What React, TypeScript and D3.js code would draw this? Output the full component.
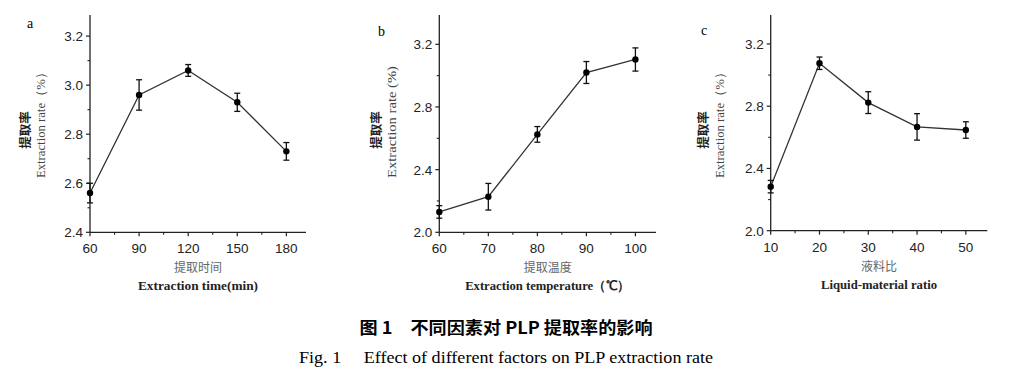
import React from "react";
import * as d3 from "d3";

// ---- data ----
const timeX = [60, 90, 120, 150, 180];
const timeY = [2.56, 2.96, 3.06, 2.93, 2.73];
const timeErr = [0.04, 0.062, 0.024, 0.037, 0.036];

const tempX = [60, 70, 80, 90, 100];
const tempY = [2.13, 2.227, 2.625, 3.02, 3.103];
const tempErr = [0.04, 0.085, 0.05, 0.07, 0.074];

const ratioX = [10, 20, 30, 40, 50];
const ratioY = [2.283, 3.076, 2.823, 2.667, 2.647];
const ratioErr = [0.04, 0.04, 0.07, 0.085, 0.053];

const timeXTicks = [60, 90, 120, 150, 180];
const timeYTicks = [2.4, 2.6, 2.8, 3.0, 3.2];
const tempXTicks = [60, 70, 80, 90, 100];
const tempYTicks = [2.0, 2.4, 2.8, 3.2];
const ratioXTicks = [10, 20, 30, 40, 50];
const ratioYTicks = [2.0, 2.4, 2.8, 3.2];

const panelLetters = ["a", "b", "c"];
const xTitlesCN = ["提取时间", "提取温度", "液料比"];
const xTitlesEN = ["Extraction time(min)", "Extraction temperature（℃）", "Liquid-material ratio"];
const yTitleCN = "提取率";
const yTitlesEN = ["Extraction rate（%）", "Extraction rate (%)", "Extraction rate（%）"];
const captionCN = "图 1　不同因素对 PLP 提取率的影响";
const captionEN = "Fig. 1　 Effect of different factors on PLP extraction rate";

const CN_FONT = "'Noto Sans CJK SC', sans-serif";
const SERIF = "'Liberation Serif', 'Times New Roman', serif";
const SANS = "'Liberation Sans', Arial, sans-serif";

type PanelCfg = {
  x: number[]; y: number[]; err: number[];
  xTicks: number[]; yTicks: number[];
  xDom: [number, number]; yDom: [number, number];
  left: number; right: number; top: number; bottom: number;
  xMinorStep: number; yMinorStep: number;
  letter: string; letterPos: [number, number];
  xCN: string; xEN: string; yEN: string;
  yLabOff: [number, number];
  xENLen: number;
};

const panels: PanelCfg[] = [
  {
    x: timeX, y: timeY, err: timeErr, xTicks: timeXTicks, yTicks: timeYTicks,
    xDom: [60, 192], yDom: [2.4, 3.286],
    left: 90, right: 306, top: 15, bottom: 232.3,
    xMinorStep: 15, yMinorStep: 0.1,
    letter: panelLetters[0], letterPos: [27, 28],
    xCN: xTitlesCN[0], xEN: xTitlesEN[0], yEN: yTitlesEN[0],
    yLabOff: [-66, -49], xENLen: 120,
  },
  {
    x: tempX, y: tempY, err: tempErr, xTicks: tempXTicks, yTicks: tempYTicks,
    xDom: [60, 104.2], yDom: [2.0, 3.387],
    left: 439.3, right: 656, top: 15, bottom: 232.3,
    xMinorStep: 5, yMinorStep: 0.2,
    letter: panelLetters[1], letterPos: [378, 36],
    xCN: xTitlesCN[1], xEN: xTitlesEN[1], yEN: yTitlesEN[1],
    yLabOff: [-64, -47], xENLen: 165,
  },
  {
    x: ratioX, y: ratioY, err: ratioErr, xTicks: ratioXTicks, yTicks: ratioYTicks,
    xDom: [10, 54.4], yDom: [2.0, 3.386],
    left: 770.7, right: 987.3, top: 15, bottom: 230.7,
    xMinorStep: 5, yMinorStep: 0.2,
    letter: panelLetters[2], letterPos: [701, 35],
    xCN: xTitlesCN[2], xEN: xTitlesEN[2], yEN: yTitlesEN[2],
    yLabOff: [-68, -51], xENLen: 116,
  },
];

function Panel({ p }: { p: PanelCfg }) {
  const xs = d3.scaleLinear().domain(p.xDom).range([p.left, p.right]);
  const ys = d3.scaleLinear().domain(p.yDom).range([p.bottom, p.top]);
  const line = d3.line<number>().x((_, i) => xs(p.x[i])).y((d) => ys(d));
  const xMinor = d3.range(p.xTicks[0] + p.xMinorStep, p.xDom[1], p.xMinorStep * 2)
    .filter((v) => v < p.xDom[1]);
  const yMinor = d3.range(p.yTicks[0] + p.yMinorStep, p.yDom[1] + 1e-9, p.yMinorStep * 2)
    .filter((v) => v <= p.yDom[1] - 0.02);
  const cx = (p.left + p.right) / 2;
  const cy = 122;
  const stroke = "#222";
  return (
    <g>
      <line x1={p.left} x2={p.right} y1={p.bottom} y2={p.bottom} stroke={stroke} strokeWidth={1.3} />
      <line x1={p.left} x2={p.left} y1={p.top} y2={p.bottom} stroke={stroke} strokeWidth={1.3} />
      {p.xTicks.map((t) => (
        <g key={"xt" + t}>
          <line x1={xs(t)} x2={xs(t)} y1={p.bottom} y2={p.bottom + 4} stroke={stroke} strokeWidth={1.2} />
          <text x={xs(t)} y={p.bottom + 21} textAnchor="middle" fontFamily={SANS} fontSize={13.5} fill="#222">
            {t}
          </text>
        </g>
      ))}
      {xMinor.map((t) => (
        <line key={"xm" + t} x1={xs(t)} x2={xs(t)} y1={p.bottom} y2={p.bottom + 2.5} stroke={stroke} strokeWidth={1.1} />
      ))}
      {p.yTicks.map((t) => (
        <g key={"yt" + t}>
          <line x1={p.left - 4} x2={p.left} y1={ys(t)} y2={ys(t)} stroke={stroke} strokeWidth={1.2} />
          <text x={p.left - 7} y={ys(t) + 5} textAnchor="end" fontFamily={SANS} fontSize={13.5} fill="#222">
            {t.toFixed(1)}
          </text>
        </g>
      ))}
      {yMinor.map((t) => (
        <line key={"ym" + t.toFixed(2)} x1={p.left - 2.5} x2={p.left} y1={ys(t)} y2={ys(t)} stroke={stroke} strokeWidth={1.1} />
      ))}
      <path d={line(p.y) || ""} fill="none" stroke="#333" strokeWidth={1.3} />
      {p.y.map((v, i) => {
        const x = xs(p.x[i]);
        const y1 = ys(v + p.err[i]);
        const y2 = ys(v - p.err[i]);
        return (
          <g key={"e" + i} stroke="#111" strokeWidth={1.3}>
            <line x1={x} x2={x} y1={y1} y2={y2} />
            <line x1={x - 3} x2={x + 3} y1={y1} y2={y1} />
            <line x1={x - 3} x2={x + 3} y1={y2} y2={y2} />
          </g>
        );
      })}
      {p.y.map((v, i) => (
        <circle key={"c" + i} cx={xs(p.x[i])} cy={ys(v)} r={3.2} fill="#000" />
      ))}
      <text x={p.letterPos[0]} y={p.letterPos[1]} fontFamily={SERIF} fontSize={14} fill="#000">
        {p.letter}
      </text>
      <text
        transform={`translate(${p.left + p.yLabOff[0]},${cy + 8}) rotate(-90)`}
        textAnchor="middle" dominantBaseline="central"
        fontFamily={CN_FONT} fontWeight="bold" fontSize={12.5} fill="#222"
      >
        {yTitleCN}
      </text>
      <text
        transform={`translate(${p.left + p.yLabOff[1]},${cy}) rotate(-90)`}
        textAnchor="middle" dominantBaseline="central"
        fontFamily={SERIF} fontSize={12.5} fill="#444"
        textLength={112} lengthAdjust="spacingAndGlyphs"
      >
        {p.yEN}
      </text>
      <text x={cx} y={p.bottom + 40} textAnchor="middle" fontFamily={CN_FONT} fontSize={12} fill="#666">
        {p.xCN}
      </text>
      <text x={cx} y={p.bottom + 58} textAnchor="middle" fontFamily={SERIF} fontWeight="bold" fontSize={13} fill="#222"
        textLength={p.xENLen} lengthAdjust="spacingAndGlyphs">
        {p.xEN}
      </text>
    </g>
  );
}

export default function App() {
  return (
    <svg width={1010} height={376} style={{ position: "absolute", left: 0, top: 0, background: "#fff" }}>
      <rect x={0} y={0} width={1010} height={376} fill="#fff" />
      {panels.map((p, i) => (
        <Panel key={i} p={p} />
      ))}
      <text x={506} y={334} textAnchor="middle" fontFamily={CN_FONT} fontWeight="bold" fontSize={16.5} fill="#000"
        textLength={293} lengthAdjust="spacingAndGlyphs">
        {captionCN}
      </text>
      <text x={506} y={363} textAnchor="middle" fontFamily={SERIF} fontSize={17} fill="#000"
        textLength={414} lengthAdjust="spacingAndGlyphs">
        {captionEN}
      </text>
    </svg>
  );
}
